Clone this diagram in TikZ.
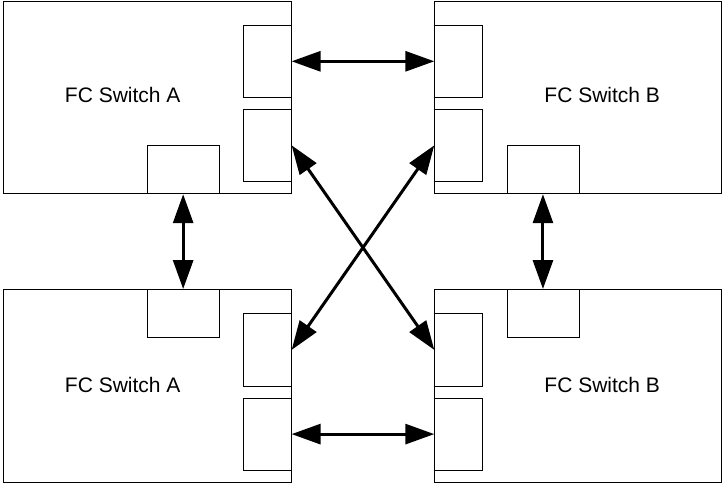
\documentclass[tikz,border=0pt]{standalone}
\usepackage{fontspec}
\setmainfont{Liberation Sans}
\usetikzlibrary{arrows.meta}
\begin{document}
\begin{tikzpicture}[x=1pt,y=-1pt,
  switchbox/.style={draw, line width=0.9pt, anchor=north west, inner sep=0pt,
                    minimum width=288pt, minimum height=192.6pt},
  vport/.style={draw, fill=white, line width=0.9pt, anchor=north west, inner sep=0pt,
                minimum width=48pt, minimum height=72.3pt},
  hport/.style={vport, minimum width=72pt, minimum height=48.3pt},
  swlabel/.style={inner sep=0pt, font=\fontsize{21}{24}\selectfont},
  link/.style={line width=3pt,
               {Triangle[length=29pt,width=20pt]}-{Triangle[length=29pt,width=20pt]}}
]
\useasboundingbox (0,0) rectangle (722,483);

% switch chassis
\node[switchbox] (swA1) at (2.7,0.7) {};
\node[switchbox, minimum width=287pt] (swB1) at (434.3,0.7) {};
\node[switchbox] (swA2) at (2.7,289) {};
\node[switchbox, minimum width=287pt] (swB2) at (434.3,289) {};

% switch names
\node[swlabel] (tA1) at (122.7,94.5) {FC Switch A};
\node[swlabel] (tB1) at (602.2,94.5) {FC Switch B};
\node[swlabel] (tA2) at (122.7,385) {FC Switch A};
\node[swlabel] (tB2) at (602.2,385) {FC Switch B};

% ports, upper A switch
\node[vport] (pA1a) at (242.7,24.7) {};
\node[vport] (pA1b) at (242.7,108.7) {};
\node[hport] (pA1c) at (146.7,145) {};
% ports, upper B switch
\node[vport] (pB1a) at (434.3,24.7) {};
\node[vport] (pB1b) at (434.3,108.7) {};
\node[hport] (pB1c) at (506.5,145) {};
% ports, lower A switch
\node[hport] (pA2c) at (146.7,289) {};
\node[vport] (pA2a) at (242.7,313.3) {};
\node[vport] (pA2b) at (242.7,397.5) {};
% ports, lower B switch
\node[hport] (pB2c) at (506.5,289) {};
\node[vport] (pB2a) at (434.3,313.3) {};
\node[vport] (pB2b) at (434.3,397.5) {};

% inter-switch links
\draw[link] (pA1a.east) -- (pB1a.west);
\draw[link] (pA2b.east) -- (pB2b.west);
\draw[link] (pA1c.south) -- (pA2c.north);
\draw[link] (pB1c.south) -- (pB2c.north);
\draw[link] (pA1b.east) -- (pB2a.west);
\draw[link] (pB1b.west) -- (pA2a.east);
\end{tikzpicture}
\end{document}
